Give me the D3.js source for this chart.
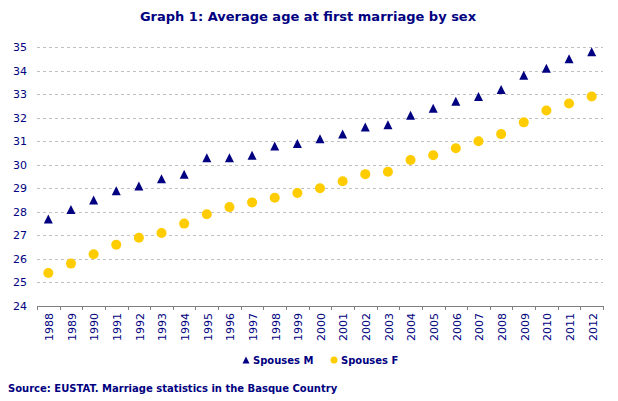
<!DOCTYPE html>
<html>
<head>
<meta charset="utf-8">
<script src="https://cdn.jsdelivr.net/npm/d3@7"></script>
<style>
  body { margin: 0; background: #fff; }
  svg { display: block; font-family: "DejaVu Sans", Verdana, sans-serif; }
</style>
</head>
<body>
<svg id="chart" width="618" height="401"></svg>
<script>
// values
const years = ["1988", "1989", "1990", "1991", "1992", "1993", "1994", "1995", "1996",
  "1997", "1998", "1999", "2000", "2001", "2002", "2003", "2004", "2005", "2006",
  "2007", "2008", "2009", "2010", "2011", "2012"];
const spousesM = [27.7, 28.1, 28.5, 28.9, 29.1, 29.4, 29.6, 30.3, 30.3, 30.4, 30.8, 30.9,
  31.1, 31.3, 31.6, 31.7, 32.1, 32.4, 32.7, 32.9, 33.2, 33.8, 34.1, 34.5, 34.8];
const spousesF = [25.4, 25.8, 26.2, 26.6, 26.9, 27.1, 27.5, 27.9, 28.2, 28.4, 28.6, 28.8,
  29.0, 29.3, 29.6, 29.7, 30.2, 30.4, 30.7, 31.0, 31.3, 31.8, 32.3, 32.6, 32.9];
const yTicks = [24, 25, 26, 27, 28, 29, 30, 31, 32, 33, 34, 35];

const navy = "#000080", gold = "#FFCC00";
const margin = {left: 37, top: 47, right: 15, bottom: 95};
const W = 618, H = 401;

const svg = d3.select("#chart");

const x = d3.scaleBand()
  .domain(years)
  .range([margin.left, W - margin.right]);
const y = d3.scaleLinear()
  .domain([24, 35])
  .range([H - margin.bottom, margin.top]);

// triangle centred on its bounding box, like the spreadsheet marker
const triangle = {
  draw(ctx, size) {
    const s = Math.sqrt(size);
    ctx.moveTo(0, -s / 2);
    ctx.lineTo(s / 2, s / 2);
    ctx.lineTo(-s / 2, s / 2);
    ctx.closePath();
  }
};

// title
svg.append("text")
  .attr("x", 308).attr("y", 21)
  .attr("text-anchor", "middle")
  .style("font-size", "13px").style("font-weight", "bold")
  .style("fill", navy)
  .text("Graph 1: Average age at first marriage by sex");

// dashed gridlines
svg.append("g")
  .selectAll("line")
  .data(yTicks.slice(1))
  .join("line")
    .attr("x1", x.range()[0]).attr("x2", x.range()[1])
    .attr("y1", d => Math.round(y(d)) + 0.5).attr("y2", d => Math.round(y(d)) + 0.5)
    .style("stroke", "#c0c0c0").style("stroke-dasharray", "3,3");

// y axis labels only (no axis line)
const yAxis = svg.append("g")
  .attr("transform", `translate(${margin.left},0)`)
  .call(d3.axisLeft(y).tickValues(yTicks).tickSize(0).tickPadding(10));
yAxis.select(".domain").remove();
yAxis.selectAll("text")
  .style("font-family", "DejaVu Sans, Verdana, sans-serif")
  .style("font-size", "11px").style("fill", navy);

// x axis with ticks on the category boundaries
const x0 = y(24);
const xAxis = svg.append("g").attr("class", "xAxis");
xAxis.append("line")
  .attr("x1", x.range()[0]).attr("x2", x.range()[1])
  .attr("y1", Math.round(x0) + 0.5).attr("y2", Math.round(x0) + 0.5)
  .style("stroke", "#808080");
xAxis.selectAll(".tick")
  .data(years.concat(["end"]))
  .join("line")
    .attr("class", "tick")
    .attr("x1", (d, i) => Math.round(x.range()[0] + i * x.step()) + 0.5)
    .attr("x2", (d, i) => Math.round(x.range()[0] + i * x.step()) + 0.5)
    .attr("y1", x0).attr("y2", x0 + 4)
    .style("stroke", "#808080");
xAxis.selectAll("text")
  .data(years)
  .join("text")
    .attr("transform", d => `translate(${x(d) + x.bandwidth() / 2 + 1},${x0 + 7}) rotate(-90)`)
    .attr("text-anchor", "end")
    .attr("dy", "0.35em")
    .style("font-size", "11px").style("fill", navy)
    .text(d => d);

// markers
svg.append("g")
  .selectAll("path")
  .data(spousesM)
  .join("path")
    .attr("transform", (d, i) => `translate(${x(years[i]) + x.bandwidth() / 2},${y(d)})`)
    .attr("d", d3.symbol().type(triangle).size(81))
    .style("fill", navy);

svg.append("g")
  .selectAll("circle")
  .data(spousesF)
  .join("circle")
    .attr("cx", (d, i) => x(years[i]) + x.bandwidth() / 2)
    .attr("cy", d => y(d))
    .attr("r", 5)
    .style("fill", gold);

// legend
const legend = svg.append("g").style("font-size", "10px").style("font-weight", "bold");
legend.append("path")
  .attr("transform", "translate(246,360)")
  .attr("d", d3.symbol().type(triangle).size(49))
  .style("fill", navy);
legend.append("text").attr("x", 253).attr("y", 364).style("fill", navy).text("Spouses M");
legend.append("circle")
  .attr("cx", 334).attr("cy", 360).attr("r", 3.5)
  .style("fill", gold);
legend.append("text").attr("x", 341).attr("y", 364).style("fill", navy).text("Spouses F");

// source note
svg.append("text")
  .attr("x", 8).attr("y", 392)
  .style("font-size", "10px").style("font-weight", "bold")
  .style("fill", navy)
  .text("Source: EUSTAT. Marriage statistics in the Basque Country");
</script>
</body>
</html>
